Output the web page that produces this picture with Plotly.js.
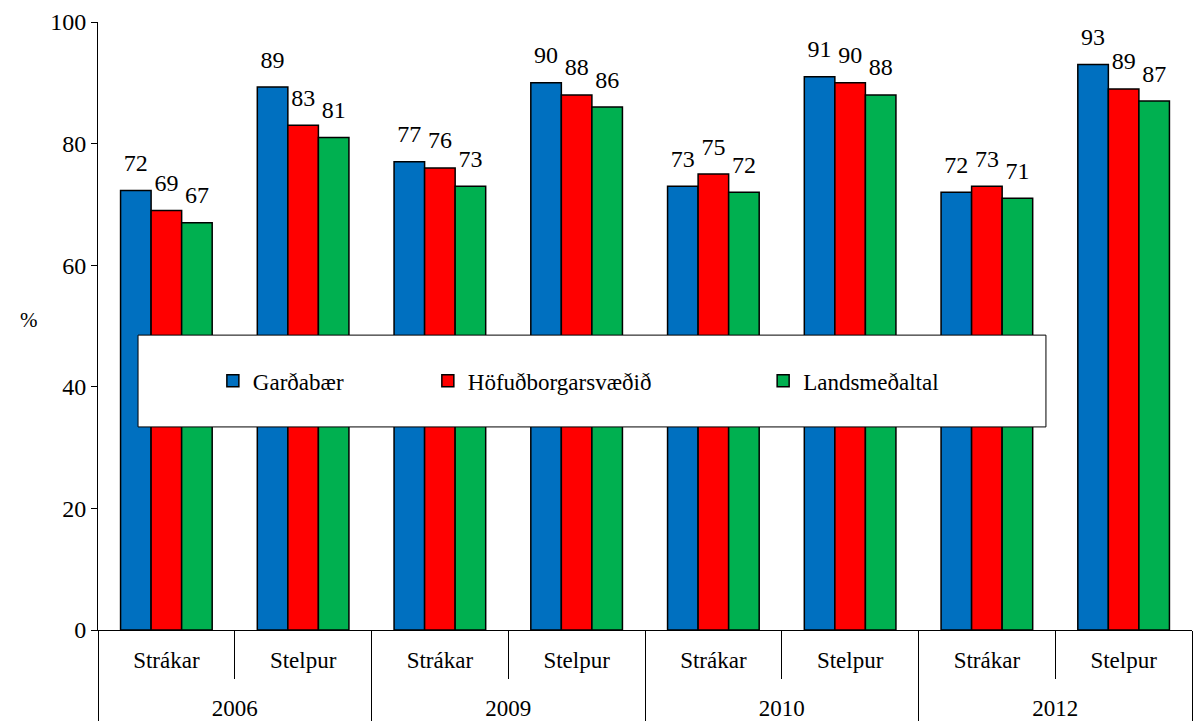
<!DOCTYPE html>
<html>
<head>
<meta charset="utf-8">
<script src="https://cdn.plot.ly/plotly-3.0.1.min.js"></script>
<style>html,body{margin:0;padding:0;background:#fff;}#chart{width:1198px;height:725px;}</style>
</head>
<body>
<div id="chart"></div>
<script>
const years = ["2006","2006","2009","2009","2010","2010","2012","2012"];
const groups = ["Strákar","Stelpur","Strákar","Stelpur","Strákar","Stelpur","Strákar","Stelpur"];
const seriesNames = ["Garðabær","Höfuðborgarsvæðið","Landsmeðaltal"];
const gardabaer = [72.3, 89.3, 77, 90, 73, 91, 72, 93];
const hofudborg = [69, 83, 76, 88, 75, 90, 73, 89];
const landsmedaltal = [67, 81, 73, 86, 72, 88, 71, 87];
const colors = ["#0070C0", "#FF0000", "#00B050"];
const yTicks = [0, 20, 40, 60, 80, 100];

const FONT = "Liberation Serif";
const values = [gardabaer, hofudborg, landsmedaltal];
const legendIds = ["legend", "legend2", "legend3"];
const xCats = [years.map(y => "<br>" + y), groups];

const barTraces = values.map((v, i) => ({
  type: "bar",
  name: seriesNames[i],
  x: xCats,
  y: v,
  offsetgroup: String(i),
  marker: {color: colors[i], line: {color: "#000", width: 1.5}},
  legend: legendIds[i],
  hoverinfo: "skip"
}));
const labelTraces = values.map((v, i) => ({
  type: "scatter",
  mode: "markers+text",
  x: xCats,
  y: v,
  offsetgroup: String(i),
  text: v.map(n => String(Math.round(n))),
  textposition: "top center",
  textfont: {family: FONT, size: 24, color: "#000"},
  marker: {size: 20, opacity: 0},
  cliponaxis: false,
  showlegend: false,
  hoverinfo: "skip"
}));

const legendBase = {
  orientation: "h", yanchor: "middle", xanchor: "left",
  bgcolor: "rgba(0,0,0,0)", borderwidth: 0,
  font: {family: FONT, size: 23, color: "#000"}
};

const layout = {
  width: 1198, height: 725,
  margin: {l: 98, r: 6, t: 22, b: 95},
  paper_bgcolor: "#fff", plot_bgcolor: "#fff",
  font: {family: FONT, size: 23, color: "#000"},
  barmode: "group",
  scattermode: "group",
  bargap: 0.33,
  bargroupgap: 0,
  showlegend: true,
  legend: Object.assign({}, legendBase, {x: 0.105, y: 0.41}),
  legend2: Object.assign({}, legendBase, {x: 0.3015, y: 0.41}),
  legend3: Object.assign({}, legendBase, {x: 0.608, y: 0.41}),
  xaxis: {
    type: "multicategory",
    showline: true, linecolor: "#000", linewidth: 1,
    ticks: "outside", ticklen: 48, tickcolor: "#000", tickwidth: 1,
    ticklabelstandoff: 9,
    showdividers: true, dividercolor: "#000", dividerwidth: 1,
    tickfont: {family: FONT, size: 23, color: "#000"},
    showgrid: false, zeroline: false, fixedrange: true
  },
  yaxis: {
    range: [0, 100],
    tickvals: yTicks,
    ticktext: yTicks.map(String),
    ticks: "outside", ticklen: 6, tickcolor: "#000",
    showline: true, linecolor: "#000", linewidth: 1,
    showgrid: false, zeroline: false,
    tickfont: {family: FONT, size: 24, color: "#000"},
    fixedrange: true
  },
  shapes: [{
    type: "rect", xref: "paper", yref: "paper", layer: "above",
    x0: 0.0366, x1: 0.8665, y0: 0.334, y1: 0.485,
    fillcolor: "#fff", line: {color: "#000", width: 1}
  }],
  annotations: [{
    text: "%", xref: "paper", yref: "paper", x: -0.073, y: 0.51,
    showarrow: false, font: {family: FONT, size: 21, color: "#000"}
  }]
};

Plotly.newPlot("chart", barTraces.concat(labelTraces), layout, {displayModeBar: false, staticPlot: true});
</script>
</body>
</html>
